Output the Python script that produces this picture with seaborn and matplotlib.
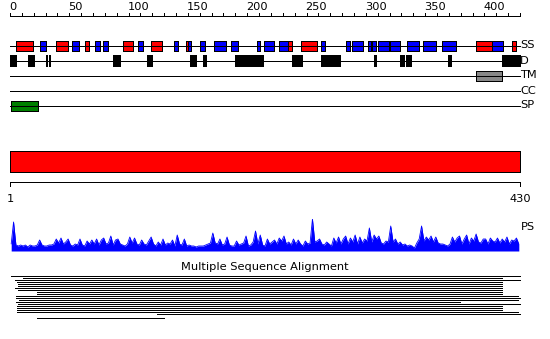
import numpy as np
import pandas as pd
import matplotlib
matplotlib.use("Agg")
import matplotlib.pyplot as plt
import seaborn as sns
from matplotlib.patches import Rectangle

# ---------------- data ----------------
seq_len = 430
ruler_labels = [0, 50, 100, 150, 200, 250, 300, 350, 400]
track_names = ["SS", "D", "TM", "CC", "SP"]

ss_helix = [(5, 19), (39, 49), (63, 67), (95, 104), (119, 128), (148, 150),
            (234, 238), (245, 259), (393, 406), (423.5, 427)]
ss_strand = [(25, 30), (52, 58), (72, 76), (78, 83), (108, 112), (138, 142),
             (150, 153), (160, 164), (172, 182), (186, 192), (208, 211),
             (214, 223), (227, 234), (262, 266), (283, 287), (288.6, 298),
             (302, 304.4), (305.5, 308.3), (310.5, 319.5), (320.7, 329),
             (335, 345), (348.5, 359), (364, 376), (406, 416)]
disorder = [(0, 4.8), (15, 20), (30, 31.5), (32.6, 34), (87, 93),
            (115.5, 119.7), (152, 156.6), (162.7, 165), (189.7, 213),
            (238, 241), (242.2, 246), (262.5, 278), (306.7, 308.3),
            (328.8, 332.2), (333.6, 338), (369, 371.6), (415, 430)]
tm_segments = [(393, 415)]
cc_segments = []
sp_segments = [(0.5, 24)]
domain_segments = [(0, 430)]

ps_residues = list(range(1, 430, 2))
ps_scores = [7, 29, 6, 5, 6,
             5, 6, 4, 6, 5,
             5, 6, 11, 6, 5,
             5, 6, 6, 7, 12,
             8, 13, 7, 9, 12,
             6, 5, 7, 6, 12,
             6, 5, 10, 7, 11,
             7, 12, 6, 11, 13,
             7, 8, 15, 6, 11,
             12, 7, 6, 5, 7,
             14, 8, 13, 7, 6,
             11, 7, 6, 10, 14,
             7, 5, 9, 6, 12,
             6, 8, 7, 11, 5,
             16, 7, 6, 12, 5,
             6, 5, 5, 4, 5,
             5, 5, 6, 7, 8,
             18, 8, 7, 12, 6,
             7, 14, 6, 5, 5,
             10, 6, 7, 8, 15,
             5, 6, 9, 20, 7,
             16, 6, 5, 12, 7,
             9, 11, 7, 13, 10,
             15, 7, 9, 6, 12,
             7, 11, 7, 5, 10,
             7, 8, 32, 9, 10,
             12, 7, 6, 9, 7,
             5, 13, 8, 14, 7,
             12, 15, 7, 13, 9,
             16, 7, 14, 8, 12,
             10, 23, 9, 16, 12,
             15, 8, 7, 10, 9,
             25, 9, 12, 7, 9,
             6, 7, 5, 6, 5,
             3, 8, 12, 25, 10,
             14, 11, 15, 9, 14,
             8, 7, 7, 6, 5,
             7, 14, 9, 13, 15,
             7, 12, 16, 7, 13,
             10, 17, 9, 8, 12,
             12, 7, 13, 10, 9,
             13, 8, 12, 9, 14,
             7, 11, 10, 13, 7]

msa_start = [1, 11, 4, 6, 7, 7, 4, 7, 23, 23, 5, 5, 8, 5, 7, 6, 6, 6, 6, 124, 23]
msa_end = [430, 415, 430, 415, 415, 415, 415, 415, 415, 415, 428, 430, 428,
           379, 430, 415, 415, 415, 428, 430, 130]

# ---------------- style ----------------
sns.set_theme(style="white")
plt.rcParams['font.family'] = ['DejaVu Sans']
plt.rcParams['text.color'] = 'black'
FS = 8.2
PX = 510 / 430.0           # pixels per residue
LW = 0.72                  # 1 pixel

fig = plt.figure(figsize=(5.5, 3.39), dpi=100)
ax = fig.add_axes([0, 0, 1, 1])
ax.set_xlim(-10 / PX, 540 / PX)
ax.set_ylim(339, 0)
ax.axis('off')

def hl(y, x0, x1, color='black'):
    ax.hlines(y, x0, x1, color=color, lw=LW, antialiased=False)

# top ruler
hl(15.5, 0, seq_len)
ticks = np.arange(0, seq_len + 1, 10)
ax.vlines(ticks, 12.5, 15.5, color='black', lw=LW, antialiased=False)
for t in ruler_labels:
    ax.text(t - 0.8, 10.5, str(t), ha='left', va='baseline', fontsize=FS,
            color='black')

# feature tracks
track_y = {"SS": 45.5, "D": 60.5, "TM": 75.5, "CC": 90.5, "SP": 105.5}
for name in track_names:
    y = track_y[name]
    hl(y, 0, seq_len)
    ax.text(seq_len + 0.3, y, name, ha='left', va='center', fontsize=FS,
            color='black')

def boxes(segs, y, h, fc, ec='black'):
    for s, e in segs:
        ax.add_patch(Rectangle((s, y - h / 2), e - s, h, facecolor=fc,
                               edgecolor=ec, lw=LW, antialiased=False))

boxes(ss_helix, track_y["SS"], 10, '#ff0000')
boxes(ss_strand, track_y["SS"], 10, '#0000ff')
boxes(disorder, track_y["D"], 11, 'black')
boxes(tm_segments, track_y["TM"], 10, '#888888')
boxes(cc_segments, track_y["CC"], 10, '#ffff00')
boxes(sp_segments, track_y["SP"], 10, '#008000')

# domain bar
boxes(domain_segments, 161, 21, '#ff0000')

# bottom ruler
hl(181.5, 0, seq_len)
ax.vlines([0, seq_len], 181.5, 186, color='black', lw=LW, antialiased=False)
ax.text(0, 202, "1", ha='center', va='baseline', fontsize=FS, color='black')
ax.text(seq_len, 202, str(seq_len), ha='center', va='baseline', fontsize=FS,
        color='black')

# PS label
ax.text(seq_len + 0.8, 227, "PS", ha='left', va='center', fontsize=FS,
        color='black')

# MSA
ax.text(seq_len / 2, 270, "Multiple Sequence Alignment", ha='center',
        va='baseline', fontsize=FS, color='black')
msa_y = [275.5 + 2 * i for i in range(20)] + [317.5]
ax.hlines(msa_y, msa_start, msa_end, color='black', lw=LW, antialiased=False)

# PS profile in its own axes
base_px = 251
top_px = 219
ax_ps = fig.add_axes([0, (339 - base_px) / 339, 1, (base_px - top_px) / 339])
ax_ps.set_xlim(-10 / PX, 540 / PX)
ax_ps.set_ylim(0, 32)
ax_ps.axis('off')
ps_df = pd.DataFrame({"res": ps_residues, "score": ps_scores})
ax_ps.fill_between(ps_df["res"], 0, ps_df["score"], color='#0000ff', lw=0)
sns.lineplot(data=ps_df, x="res", y="score", ax=ax_ps, color='#0000ff', lw=0.6)
ax_ps.hlines(0.5, 0, seq_len, color='#0000ff', lw=LW, antialiased=False)
ax_ps.set_xlabel("")
ax_ps.set_ylabel("")

fig.savefig("out.png", dpi=100)
